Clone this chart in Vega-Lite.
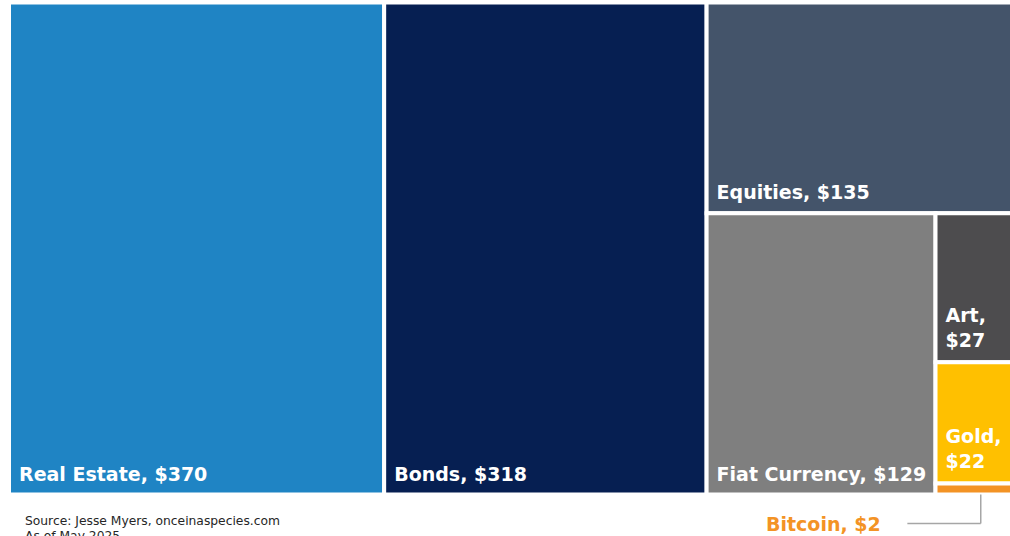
{
  "$schema": "https://vega.github.io/schema/vega-lite/v6.json",
  "autosize": {"type": "none"},
  "padding": {"left": 9, "top": 2.5, "right": 0, "bottom": 41.5},
  "width": 1017,
  "height": 492,
  "background": "white",
  "config": {"view": {"stroke": null}},
  "title": {
    "text": ["Source: Jesse Myers, onceinaspecies.com", "As of May 2025"],
    "orient": "bottom",
    "anchor": "start",
    "frame": "group",
    "dx": 16,
    "offset": -20,
    "font": "DejaVu Sans",
    "fontSize": 12.3,
    "fontWeight": "normal",
    "color": "#262626",
    "lineHeight": 15
  },
  "data": {
    "values": [
      {"name": "Real Estate", "label": "Real Estate, $370", "value": 370, "col": "A", "band": "A", "sub": "A", "ord": 1},
      {"name": "Bonds", "label": "Bonds, $318", "value": 318, "col": "B", "band": "B", "sub": "B", "ord": 2},
      {"name": "Equities", "label": "Equities, $135", "value": 135, "col": "C", "band": "Top", "sub": "Eq", "ord": 3},
      {"name": "Fiat Currency", "label": "Fiat Currency, $129", "value": 129, "col": "C", "band": "Rest", "sub": "Fiat", "ord": 4},
      {"name": "Art", "label": "Art,\n$27", "value": 27, "col": "C", "band": "Rest", "sub": "Small", "ord": 5},
      {"name": "Gold", "label": "Gold,\n$22", "value": 22, "col": "C", "band": "Rest", "sub": "Small", "ord": 6},
      {"name": "Bitcoin", "label": "Bitcoin, $2", "value": 2, "col": "C", "band": "Rest", "sub": "Small", "ord": 7}
    ]
  },
  "transform": [
    {"window": [{"op": "sum", "field": "value", "as": "cumAll"}], "sort": [{"field": "ord"}], "frame": [null, 0]},
    {"window": [{"op": "sum", "field": "value", "as": "cumCol"}], "groupby": ["col"], "sort": [{"field": "ord"}], "frame": [null, 0]},
    {"window": [{"op": "sum", "field": "value", "as": "cumBand"}], "groupby": ["col", "band"], "sort": [{"field": "ord"}], "frame": [null, 0]},
    {"window": [{"op": "sum", "field": "value", "as": "cumSub"}], "groupby": ["col", "band", "sub"], "sort": [{"field": "ord"}], "frame": [null, 0]},
    {"calculate": "datum.cumAll - datum.value", "as": "sAll"},
    {"calculate": "datum.cumCol - datum.value", "as": "sCol"},
    {"calculate": "datum.cumBand - datum.value", "as": "sBand"},
    {"joinaggregate": [{"op": "min", "field": "sAll", "as": "colStart"}, {"op": "sum", "field": "value", "as": "colTotal"}], "groupby": ["col"]},
    {"joinaggregate": [{"op": "min", "field": "sCol", "as": "bandStart"}, {"op": "sum", "field": "value", "as": "bandTotal"}], "groupby": ["col", "band"]},
    {"joinaggregate": [{"op": "min", "field": "sBand", "as": "subStart"}, {"op": "sum", "field": "value", "as": "subTotal"}], "groupby": ["col", "band", "sub"]},
    {"calculate": "datum.colStart + datum.colTotal * datum.subStart / datum.bandTotal", "as": "x0"},
    {"calculate": "datum.colStart + datum.colTotal * (datum.subStart + datum.subTotal) / datum.bandTotal", "as": "x1"},
    {"calculate": "datum.bandStart / datum.colTotal", "as": "by0"},
    {"calculate": "datum.bandTotal / datum.colTotal", "as": "bh"},
    {"calculate": "datum.by0 + datum.bh * (datum.cumSub - datum.value) / datum.subTotal", "as": "y0"},
    {"calculate": "datum.by0 + datum.bh * datum.cumSub / datum.subTotal", "as": "y1"},
    {"calculate": "(datum.x0 + datum.x1) / 2", "as": "xm"}
  ],
  "layer": [
    {
      "mark": {"type": "rect", "stroke": "white", "strokeWidth": 4, "clip": false},
      "encoding": {
        "x": {"field": "x0", "type": "quantitative", "scale": {"domain": [0, 1003], "nice": false, "zero": false}, "axis": null},
        "x2": {"field": "x1"},
        "y": {"field": "y0", "type": "quantitative", "scale": {"domain": [0, 1], "nice": false, "reverse": true}, "axis": null},
        "y2": {"field": "y1"},
        "color": {
          "field": "name", "type": "nominal", "legend": null,
          "scale": {
            "domain": ["Real Estate", "Bonds", "Equities", "Fiat Currency", "Art", "Gold", "Bitcoin"],
            "range": ["#1F84C4", "#061F52", "#44546A", "#7F7F7F", "#4D4C4E", "#FFC000", "#F39325"]
          }
        }
      }
    },
    {
      "transform": [{"filter": {"field": "name", "oneOf": ["Real Estate", "Bonds", "Equities", "Fiat Currency"]}}],
      "mark": {"type": "text", "align": "left", "baseline": "alphabetic", "dx": 10, "dy": -14, "color": "white", "font": "DejaVu Sans", "fontSize": 19, "fontWeight": "bold"},
      "encoding": {
        "x": {"field": "x0", "type": "quantitative"},
        "y": {"field": "y1", "type": "quantitative"},
        "text": {"field": "label"}
      }
    },
    {
      "transform": [{"filter": {"field": "name", "oneOf": ["Art", "Gold"]}}],
      "mark": {"type": "text", "align": "left", "baseline": "alphabetic", "dx": 10, "dy": -40, "color": "white", "font": "DejaVu Sans", "fontSize": 19, "fontWeight": "bold", "lineBreak": "\n", "lineHeight": 25},
      "encoding": {
        "x": {"field": "x0", "type": "quantitative"},
        "y": {"field": "y1", "type": "quantitative"},
        "text": {"field": "label"}
      }
    },
    {
      "transform": [{"filter": "datum.name == 'Bitcoin'"}],
      "mark": {"type": "rule", "color": "#A6A6A6", "strokeWidth": 1.5},
      "encoding": {
        "x": {"field": "xm", "type": "quantitative"},
        "y": {"field": "y1", "type": "quantitative"},
        "y2": {"datum": 1.059}
      }
    },
    {
      "transform": [{"filter": "datum.name == 'Bitcoin'"}],
      "mark": {"type": "rule", "color": "#A6A6A6", "strokeWidth": 1.5},
      "encoding": {
        "x": {"field": "xm", "type": "quantitative"},
        "x2": {"datum": 886},
        "y": {"datum": 1.059}
      }
    },
    {
      "transform": [{"filter": "datum.name == 'Bitcoin'"}],
      "mark": {"type": "text", "align": "right", "baseline": "alphabetic", "dx": -100, "dy": 7, "color": "#F39325", "font": "DejaVu Sans", "fontSize": 19, "fontWeight": "bold"},
      "encoding": {
        "x": {"field": "xm", "type": "quantitative"},
        "y": {"datum": 1.059},
        "text": {"field": "label"}
      }
    }
  ]
}
